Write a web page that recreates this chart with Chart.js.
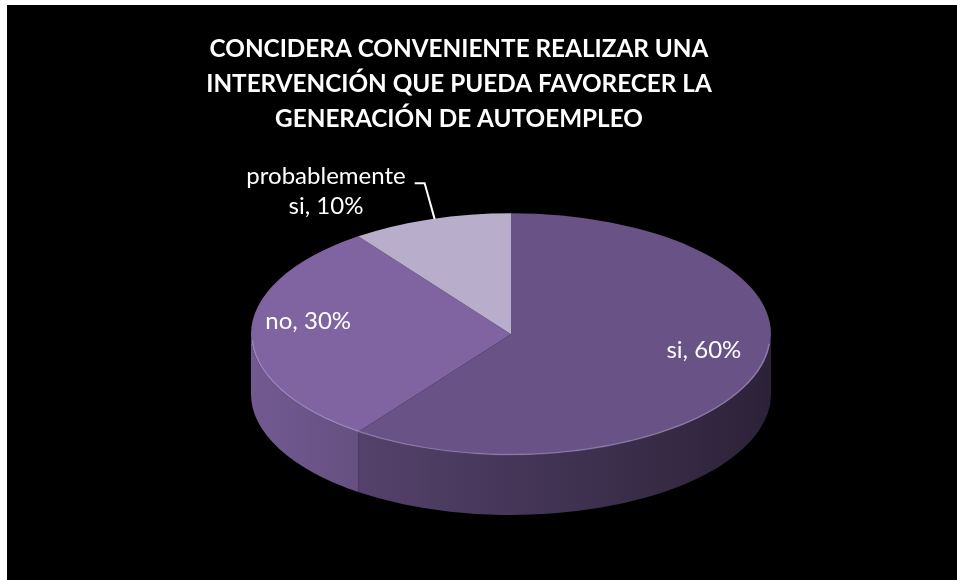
<!DOCTYPE html>
<html>
<head>
<meta charset="utf-8">
<script src="https://cdn.jsdelivr.net/npm/chart.js@4.4.1/dist/chart.umd.min.js"></script>
<style>
    body { margin: 0; background: #fff; }
    #wrap { position: absolute; left: 7px; top: 5px; width: 950px; height: 575px; background: #000; }
</style>
</head>
<body>
<div id="wrap"><canvas id="pieChart" width="950" height="575"></canvas></div>
<script>
const titleLines = [
    "CONCIDERA CONVENIENTE REALIZAR UNA",
    "INTERVENCIÓN QUE PUEDA FAVORECER LA",
    "GENERACIÓN DE AUTOEMPLEO"
];
const categories = ["si", "no", "probablemente si"];
const percentages = [60, 30, 10];
const sliceColors = ["#695286", "#7F64A1", "#B8ADCA"];

const tilt = 0.465;      // height / width of the top face
const depth = 60;        // thickness of the pie
const pieRadius = 260;
const pieShiftX = 52;    // pie sits a bit right of the title centre
const titleLineHeight = 34.75;

function hexToRgb(hex) {
    let n = parseInt(hex.slice(1), 16);
    return [(n >> 16) & 255, (n >> 8) & 255, n & 255];
}

function shade(rgb, f) {
    return `rgb(${Math.round(rgb[0] * f)},${Math.round(rgb[1] * f)},${Math.round(rgb[2] * f)})`;
}

function fitFontSize(text, font, width) {
    let c = document.createElement("canvas").getContext("2d");
    c.font = "100px " + font;
    return 100 * width / c.measureText(text).width;
}

let titleSize = fitFontSize(titleLines[0], "bold Lato", 504);

const pie3d = {
    id: "pie3d",
    afterLayout(chart) {
        chart.chartArea.left += pieShiftX;
        chart.chartArea.right += pieShiftX;
    },
    beforeDatasetsDraw(chart) {
        let ctx = chart.ctx;
        let meta = chart.getDatasetMeta(0);
        ctx.save();
        // side walls, only the front half is visible
        meta.data.forEach(function (arc, i) {
            let p = arc.getProps(["x", "y", "startAngle", "endAngle", "outerRadius"], true);
            let rgb = hexToRgb(sliceColors[i]);
            [-2 * Math.PI, 0, 2 * Math.PI].forEach(function (n) {
                let lo = Math.max(p.startAngle, n);
                let hi = Math.min(p.endAngle, Math.PI + n);
                if (hi <= lo) return;
                let g = ctx.createLinearGradient(p.x - p.outerRadius, 0, p.x + p.outerRadius, 0);
                g.addColorStop(0, shade(rgb, 0.9));
                g.addColorStop(1, shade(rgb, 0.42));
                ctx.beginPath();
                ctx.ellipse(p.x, p.y, p.outerRadius, p.outerRadius * tilt, 0, lo - n, hi - n);
                ctx.ellipse(p.x, p.y + depth, p.outerRadius, p.outerRadius * tilt, 0, hi - n, lo - n, true);
                ctx.closePath();
                ctx.fillStyle = g;
                ctx.fill();
            });
        });
        // squash the top face into an ellipse
        let c = meta.data[0];
        ctx.translate(c.x, c.y);
        ctx.scale(1, tilt);
        ctx.translate(-c.x, -c.y);
    },
    afterDatasetsDraw(chart) {
        let ctx = chart.ctx;
        ctx.restore();
        let meta = chart.getDatasetMeta(0);
        let total = percentages.reduce((a, b) => a + b, 0);

        let c = meta.data[0];
        ctx.save();
        ctx.beginPath();
        ctx.ellipse(c.x, c.y, c.outerRadius - 1, (c.outerRadius - 1) * tilt, 0, 0.08, Math.PI - 0.05);
        ctx.strokeStyle = "rgba(205,190,235,0.35)";
        ctx.lineWidth = 1.5;
        ctx.stroke();

        ctx.fillStyle = "#fff";
        ctx.font = "24px Lato";
        ctx.textAlign = "center";
        ctx.textBaseline = "alphabetic";
        meta.data.forEach(function (arc, i) {
            let p = arc.getProps(["x", "y", "startAngle", "endAngle", "outerRadius"], true);
            let mid = (p.startAngle + p.endAngle) / 2;
            let text = `${categories[i]}, ${percentages[i]}%`;
            if (percentages[i] / total >= 0.15) {
                let lx = p.x + 0.78 * p.outerRadius * Math.cos(mid);
                let ly = p.y + 0.78 * p.outerRadius * tilt * Math.sin(mid) - 5;
                ctx.fillText(text, lx, ly);
            } else {
                let ex = p.x + p.outerRadius * Math.cos(mid);
                let ey = p.y + p.outerRadius * tilt * Math.sin(mid);
                let bx = ex - 6, by = ey - 36;
                ctx.strokeStyle = "#fff";
                ctx.lineWidth = 2;
                ctx.beginPath();
                ctx.moveTo(ex + 4, ey);
                ctx.lineTo(bx, by);
                ctx.lineTo(bx - 10, by);
                ctx.stroke();
                let words = text.split(" ");
                let lines = [words[0], words.slice(1).join(" ")];
                let w = Math.max(...lines.map(l => ctx.measureText(l).width));
                let tx = bx - 19 - w / 2;
                ctx.fillText(lines[0], tx, by + 1);
                ctx.fillText(lines[1], tx, by + 31);
            }
        });
        ctx.restore();
    }
};

new Chart(document.getElementById("pieChart"), {
    type: "pie",
    data: {
        labels: categories,
        datasets: [{
            data: percentages,
            backgroundColor: sliceColors,
            borderWidth: 0,
            radius: pieRadius
        }]
    },
    options: {
        responsive: false,
        devicePixelRatio: 1,
        animation: false,
        events: [],
        rotation: 0,
        layout: {
            padding: { top: 0, left: 0, right: 46, bottom: 48 }
        },
        plugins: {
            legend: { display: false },
            tooltip: { enabled: false },
            title: {
                display: true,
                text: titleLines,
                color: "#fff",
                font: { family: "Lato", weight: "bold", size: titleSize, lineHeight: titleLineHeight / titleSize },
                padding: { top: 27, bottom: 0 }
            }
        }
    },
    plugins: [pie3d]
});
</script>
</body>
</html>
